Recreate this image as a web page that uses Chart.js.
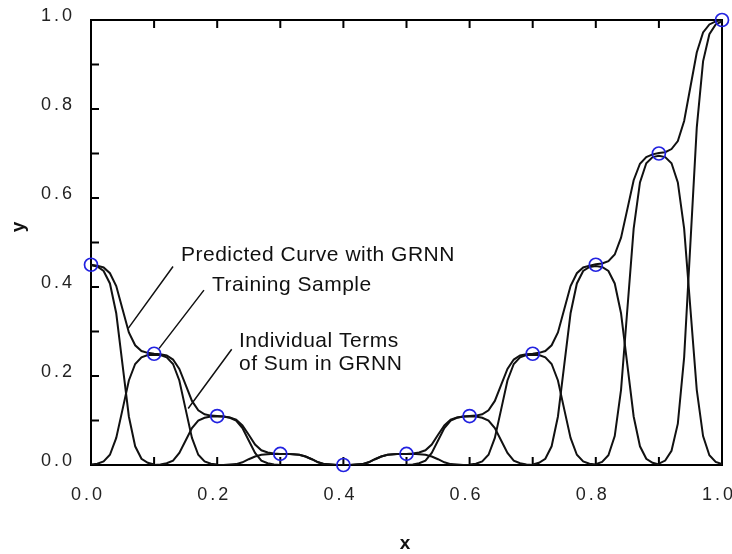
<!DOCTYPE html>
<html>
<head>
<meta charset="utf-8">
<script src="https://cdn.jsdelivr.net/npm/chart.js@4.4.1/dist/chart.umd.min.js"></script>
<style>
  html, body { margin: 0; padding: 0; background: #fff; }
  #wrap { width: 732px; height: 554px; }
</style>
</head>
<body>
<div id="wrap"><canvas id="grnnChart"></canvas></div>
<script>
// training samples (blue circles)
const sampleX = [0.0, 0.1, 0.2, 0.3, 0.4, 0.5, 0.6, 0.7, 0.8, 0.9, 1.0];
const sampleY = [0.45, 0.25, 0.11, 0.025, 0.0, 0.025, 0.11, 0.25, 0.45, 0.70, 1.00];

const curveStep = 0.01;
const predictedY = [
    0.450, 0.448, 0.444, 0.431, 0.402, 0.350, 0.298, 0.269, 0.256, 0.252,
    0.250, 0.249, 0.246, 0.237, 0.216, 0.180, 0.144, 0.123, 0.114, 0.111,
    0.110, 0.109, 0.107, 0.102, 0.089, 0.068, 0.046, 0.033, 0.028, 0.026,
    0.025, 0.025, 0.024, 0.023, 0.019, 0.013, 0.006, 0.002, 0.001, 0.000,
    0.000, 0.000, 0.001, 0.002, 0.006, 0.013, 0.019, 0.023, 0.024, 0.025,
    0.025, 0.026, 0.028, 0.033, 0.046, 0.068, 0.089, 0.102, 0.107, 0.109,
    0.110, 0.111, 0.114, 0.123, 0.144, 0.180, 0.216, 0.237, 0.246, 0.249,
    0.250, 0.252, 0.256, 0.269, 0.298, 0.350, 0.402, 0.431, 0.444, 0.448,
    0.451, 0.453, 0.458, 0.473, 0.511, 0.575, 0.640, 0.677, 0.692, 0.698,
    0.701, 0.703, 0.710, 0.728, 0.773, 0.850, 0.927, 0.972, 0.990, 0.997,
    1.000
];

// individual terms of the sum, each read every 0.01 from its start x
const termStart = [0.0, 0.0, 0.1, 0.2, 0.4, 0.5, 0.6, 0.7, 0.8, 0.9];
const term00 = [0.449, 0.446, 0.436, 0.408, 0.341, 0.225, 0.109, 0.042, 0.014, 0.005, 0.001];
const term01 = [0.001, 0.003, 0.008, 0.023, 0.061, 0.125, 0.190, 0.227, 0.242, 0.247, 0.248,
                0.247, 0.242, 0.227, 0.190, 0.125, 0.061, 0.023, 0.008, 0.003, 0.001];
const term02 = [0.000, 0.001, 0.004, 0.010, 0.027, 0.055, 0.083, 0.100, 0.106, 0.109, 0.109,
                0.109, 0.106, 0.100, 0.083, 0.055, 0.027, 0.010, 0.004, 0.001, 0.000];
const term03 = [0.000, 0.000, 0.001, 0.002, 0.006, 0.013, 0.019, 0.023, 0.024, 0.025, 0.025,
                0.025, 0.024, 0.023, 0.019, 0.013, 0.006, 0.002, 0.001, 0.000, 0.000];
const term05 = [0.000, 0.000, 0.001, 0.002, 0.006, 0.013, 0.019, 0.023, 0.024, 0.025, 0.025,
                0.025, 0.024, 0.023, 0.019, 0.013, 0.006, 0.002, 0.001, 0.000, 0.000];
const term06 = [0.000, 0.001, 0.004, 0.010, 0.027, 0.055, 0.083, 0.100, 0.106, 0.109, 0.109,
                0.109, 0.106, 0.100, 0.083, 0.055, 0.027, 0.010, 0.004, 0.001, 0.000];
const term07 = [0.001, 0.003, 0.008, 0.023, 0.061, 0.125, 0.190, 0.227, 0.242, 0.247, 0.248,
                0.247, 0.242, 0.227, 0.190, 0.125, 0.061, 0.023, 0.008, 0.003, 0.001];
const term08 = [0.001, 0.005, 0.014, 0.042, 0.109, 0.225, 0.341, 0.408, 0.436, 0.445, 0.447,
                0.445, 0.436, 0.408, 0.341, 0.225, 0.109, 0.042, 0.014, 0.005, 0.001];
const term09 = [0.002, 0.007, 0.022, 0.065, 0.169, 0.350, 0.531, 0.635, 0.678, 0.692, 0.695,
                0.692, 0.678, 0.635, 0.531, 0.350, 0.169, 0.065, 0.022, 0.007, 0.002];
const term10 = [0.003, 0.010, 0.032, 0.093, 0.242, 0.500, 0.758, 0.907, 0.968, 0.990, 0.997];
const terms = [term00, term01, term02, term03, term05, term06, term07, term08, term09, term10];

// axis labels and tick marks
const xTickLabels = ['0.0', '0.2', '0.4', '0.6', '0.8', '1.0'];
const yTickLabels = ['0.0', '0.2', '0.4', '0.6', '0.8', '1.0'];
const minorTicks = [0.1, 0.2, 0.3, 0.4, 0.5, 0.6, 0.7, 0.8, 0.9];
const xTitle = 'x';
const yTitle = 'y';

// annotation texts with their leader lines (data units)
const noteTexts = ['Predicted Curve with GRNN', 'Training Sample', 'Individual Terms', 'of Sum in GRNN'];
const noteAnchors = [[0.1426, 0.458], [0.1918, 0.392], [0.2345, 0.266], [0.2345, 0.2146]];
const leaderLines = [
    [0.130, 0.446, 0.059, 0.307],
    [0.179, 0.393, 0.108, 0.262],
    [0.223, 0.260, 0.154, 0.127]
];

const lineColor = '#111';

// frame, inward ticks, notes and the y title
const framePlugin = {
    id: 'frame',
    beforeDraw(chart) {
        chart.ctx.letterSpacing = '3px'; // tick labels are widely spaced in the original
    },
    beforeDatasetsDraw(chart) {
        const { ctx, chartArea: a, scales: { x, y } } = chart;
        ctx.save();
        ctx.strokeStyle = '#000';
        ctx.lineWidth = 2;
        ctx.strokeRect(a.left, a.top, a.right - a.left, a.bottom - a.top);
        ctx.beginPath();
        minorTicks.forEach(v => {
            const px = x.getPixelForValue(v);
            ctx.moveTo(px, a.bottom); ctx.lineTo(px, a.bottom - 8);
            ctx.moveTo(px, a.top); ctx.lineTo(px, a.top + 8);
            const py = y.getPixelForValue(v);
            ctx.moveTo(a.left, py); ctx.lineTo(a.left + 8, py);
        });
        ctx.stroke();
        ctx.restore();
    },
    afterDraw(chart) {
        const { ctx, scales: { x, y } } = chart;
        ctx.save();
        ctx.strokeStyle = lineColor;
        ctx.lineWidth = 1.5;
        ctx.beginPath();
        leaderLines.forEach(l => {
            ctx.moveTo(x.getPixelForValue(l[0]), y.getPixelForValue(l[1]));
            ctx.lineTo(x.getPixelForValue(l[2]), y.getPixelForValue(l[3]));
        });
        ctx.stroke();

        ctx.letterSpacing = '0.5px';
        ctx.fillStyle = lineColor;
        ctx.font = '21px "Liberation Sans", Arial, sans-serif';
        ctx.textAlign = 'left';
        ctx.textBaseline = 'alphabetic';
        noteTexts.forEach((t, i) => {
            ctx.fillText(t, x.getPixelForValue(noteAnchors[i][0]), y.getPixelForValue(noteAnchors[i][1]));
        });

        // y title sits a little above the middle of the axis
        ctx.letterSpacing = '0px';
        ctx.font = 'bold 19px "Liberation Sans", Arial, sans-serif';
        ctx.textAlign = 'center';
        ctx.textBaseline = 'middle';
        ctx.translate(19, y.getPixelForValue(0.535));
        ctx.rotate(-Math.PI / 2);
        ctx.fillText(yTitle, 0, 0);
        ctx.restore();
    }
};

const termSets = terms.map((vals, k) => ({
    data: vals.map((v, i) => ({ x: termStart[k] + i * curveStep, y: v })),
    showLine: true,
    borderColor: lineColor,
    borderWidth: 2,
    pointRadius: 0,
    tension: 0,
    fill: false,
    order: 3
}));

const ctx = document.getElementById('grnnChart').getContext('2d');
const grnnChart = new Chart(ctx, {
    type: 'scatter',
    data: {
        datasets: [
            {
                // training samples
                data: sampleX.map((v, i) => ({ x: v, y: sampleY[i] })),
                pointStyle: 'circle',
                pointRadius: 6.5,
                borderWidth: 1.7,
                borderColor: '#2222e0',
                backgroundColor: 'rgba(0,0,0,0)',
                clip: false,
                order: 1
            },
            {
                // predicted curve
                data: predictedY.map((v, i) => ({ x: i * curveStep, y: v })),
                showLine: true,
                borderColor: lineColor,
                borderWidth: 2,
                pointRadius: 0,
                tension: 0,
                fill: false,
                order: 2
            },
            ...termSets
        ]
    },
    options: {
        responsive: true,
        maintainAspectRatio: false,
        animation: false,
        devicePixelRatio: 1,
        layout: { padding: { left: 0, right: 10, top: 20, bottom: 0 } },
        plugins: {
            legend: { display: false },
            tooltip: { enabled: false }
        },
        scales: {
            x: {
                type: 'linear',
                min: 0,
                max: 1,
                grid: { display: false, drawTicks: false },
                border: { display: false },
                ticks: {
                    stepSize: 0.2,
                    padding: 19,
                    labelOffset: -3,
                    color: '#222',
                    font: { family: '"Liberation Sans", Arial, sans-serif', size: 18 },
                    callback: (value, index) => xTickLabels[index]
                },
                title: {
                    display: true,
                    text: xTitle,
                    color: '#111',
                    font: { family: '"Liberation Sans", Arial, sans-serif', size: 19, weight: 'bold' },
                    padding: { top: 0, bottom: -1 }
                },
                afterFit: (scale) => {
                    scale.height = 89;
                    scale.paddingLeft = 0;
                    scale.paddingRight = 0;
                }
            },
            y: {
                type: 'linear',
                min: 0,
                max: 1,
                grid: { display: false, drawTicks: false },
                border: { display: false },
                ticks: {
                    stepSize: 0.2,
                    padding: 16,
                    labelOffset: -4,
                    color: '#222',
                    font: { family: '"Liberation Sans", Arial, sans-serif', size: 18 },
                    callback: (value, index) => yTickLabels[index]
                },
                afterFit: (scale) => {
                    scale.width = 91;
                    scale.paddingTop = 0;
                    scale.paddingBottom = 0;
                }
            }
        }
    },
    plugins: [framePlugin]
});
</script>
</body>
</html>
